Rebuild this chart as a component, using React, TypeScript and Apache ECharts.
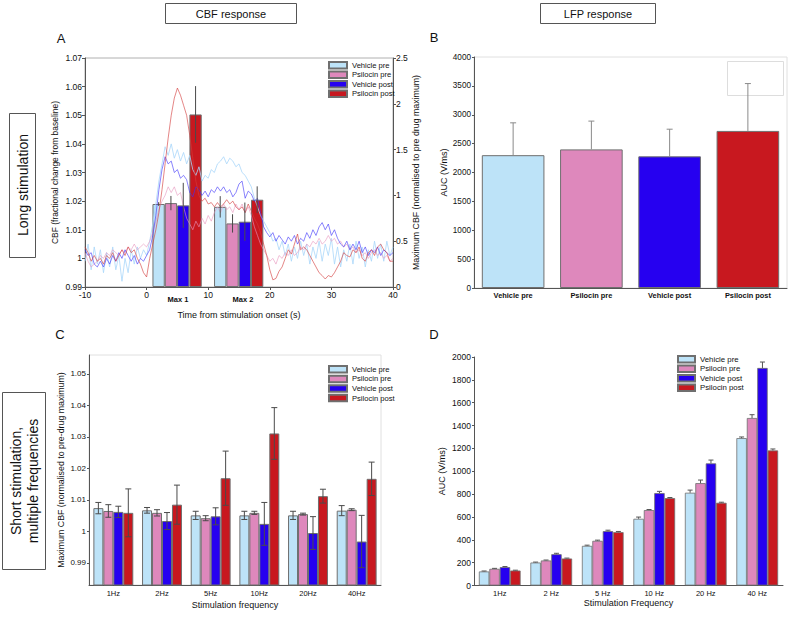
import React, { useEffect, useRef } from 'react';
import * as echarts from 'echarts';

// ---------- shared ----------
const conditions = ['Vehicle pre', 'Psilocin pre', 'Vehicle post', 'Psilocin post'];
const barColors = ['#bde3f8', '#de88bc', '#2600f0', '#c8181f'];
const traceColors = ['rgba(170,215,250,0.8)', 'rgba(232,150,190,0.6)', 'rgba(60,50,250,0.6)', 'rgba(212,60,60,0.62)'];

// ---------- Panel A: CBF traces (time from -10 s, step 0.5 s) ----------
const traceStart = -10;
const traceStep = 0.5;
const traceVehiclePre = [
  0.999, 1.005, 0.996, 1.004, 0.998, 1.003, 0.995, 1.002, 0.997, 1.004,
  0.996, 1.001, 0.992, 1.000, 0.995, 1.003, 0.998, 1.004, 1.000, 1.003,
  1.001, 1.006, 1.012, 1.019, 1.027, 1.033, 1.039, 1.036, 1.040, 1.035,
  1.038, 1.034, 1.037, 1.033, 1.036, 1.031, 1.029, 1.032, 1.027, 1.029,
  1.028, 1.031, 1.030, 1.033, 1.034, 1.0355, 1.033, 1.035, 1.034, 1.032,
  1.033, 1.030, 1.029, 1.027, 1.025, 1.021, 1.018, 1.015, 1.013, 1.011,
  1.009, 1.006, 1.007, 1.003, 1.006, 1.001, 1.005, 0.999, 1.004, 1.000,
  1.006, 1.001, 1.005, 0.998, 1.004, 1.000, 1.006, 0.999, 1.005, 1.001,
  1.007, 0.998, 1.004, 0.997, 1.003, 0.999, 1.005, 0.998, 1.006, 1.000,
  1.004, 0.997, 1.003, 0.999, 1.006, 1.000, 1.005, 0.999, 1.006, 1.001,
  1.004,
];
const tracePsilocinPre = [
  1.002, 0.999, 0.997, 0.998, 0.999, 1.001, 1.000, 1.002, 1.001, 1.003,
  1.002, 1.001, 1.003, 1.002, 1.004, 1.003, 1.005, 1.003, 1.004, 1.005,
  1.004, 1.006, 1.009, 1.013, 1.017, 1.020, 1.022, 1.025, 1.023, 1.025,
  1.022, 1.023, 1.018, 1.014, 1.012, 1.010, 1.013, 1.011, 1.014, 1.012,
  1.015, 1.013, 1.016, 1.018, 1.016, 1.019, 1.017, 1.018, 1.016, 1.019,
  1.017, 1.019, 1.016, 1.018, 1.015, 1.011, 1.008, 1.005, 1.003, 1.001,
  0.999, 1.000, 0.998, 1.001, 1.000, 1.002, 1.001, 1.003, 1.001, 1.002,
  1.004, 1.003, 1.005, 1.004, 1.006, 1.005, 1.007, 1.005, 1.006, 1.008,
  1.006, 1.007, 1.005, 1.006, 1.004, 1.005, 1.003, 1.004, 1.002, 1.003,
  1.001, 1.002, 1.000, 1.002, 1.003, 1.001, 1.002, 1.000, 1.001, 0.999,
  1.000,
];
const traceVehiclePost = [
  1.003, 1.001, 1.002, 0.998, 0.997, 0.999, 0.997, 1.000, 0.998, 1.001,
  0.999, 1.002, 1.000, 1.003, 1.001, 0.999, 1.001, 0.998, 1.000, 0.999,
  1.001, 1.003, 1.008, 1.015, 1.024, 1.031, 1.0355, 1.033, 1.034, 1.030,
  1.031, 1.028, 1.029, 1.0275, 1.023, 1.0215, 1.025, 1.024, 1.022, 1.0235,
  1.0215, 1.024, 1.023, 1.025, 1.0235, 1.025, 1.023, 1.024, 1.0215, 1.023,
  1.026, 1.027, 1.021, 1.0235, 1.0225, 1.020, 1.021, 1.016, 1.011, 1.009,
  1.0075, 1.009, 1.006, 1.008, 1.0065, 1.005, 1.0075, 1.006, 1.008, 1.005,
  1.007, 1.006, 1.009, 1.007, 1.010, 1.008, 1.011, 1.0125, 1.010, 1.012,
  1.008, 1.010, 1.007, 1.005, 1.004, 1.006, 1.003, 1.005, 1.003, 1.006,
  1.002, 1.004, 1.001, 1.003, 1.002, 1.004, 1.001, 1.003, 1.002, 1.001,
  1.002,
];
const tracePsilocinPost = [
  1.004, 1.002, 0.999, 1.001, 0.999, 1.000, 0.998, 1.001, 1.000, 1.002,
  0.999, 1.001, 1.003, 1.001, 1.004, 1.002, 1.003, 1.000, 0.998, 0.995,
  0.9935, 1.000, 1.005, 1.010, 1.016, 1.024, 1.033, 1.042, 1.050, 1.056,
  1.0595, 1.057, 1.0535, 1.050, 1.043, 1.035, 1.027, 1.022, 1.020, 1.021,
  1.019, 1.0195, 1.018, 1.0195, 1.018, 1.019, 1.0205, 1.019, 1.020, 1.018,
  1.017, 1.018, 1.016, 1.019, 1.0165, 1.014, 1.012, 1.009, 1.005, 1.001,
  0.996, 0.9925, 0.993, 0.9955, 0.997, 1.000, 1.003, 1.0015, 1.005, 1.0085,
  1.003, 1.004, 1.003, 1.001, 0.999, 0.997, 0.995, 0.994, 0.9928, 0.994,
  0.9935, 0.995, 0.997, 0.999, 1.002, 1.001, 1.0005, 1.003, 1.002, 1.004,
  1.000, 0.999, 1.002, 1.003, 1.001, 1.004, 1.005, 1.003, 1.002, 0.999,
  0.999,
];
const traces = [traceVehiclePre, tracePsilocinPre, traceVehiclePost, tracePsilocinPost];

// Panel A maxima (right axis: normalised to pre-drug maximum)
const maxLabels = ['Max 1', 'Max 2'];
const maxWindowStart = [0.95, 10.95]; // s; each condition bar spans 2 s
const maxVehiclePre = [0.906, 0.875];
const maxPsilocinPre = [0.916, 0.694];
const maxVehiclePost = [0.891, 0.713];
const maxPsilocinPost = [1.884, 0.953];
const maxErrVehiclePre = [0.02, 0.117];
const maxErrPsilocinPre = [0.078, 0.1];
const maxErrVehiclePost = [0.246, 0.209];
const maxErrPsilocinPost = [0.309, 0.146];
const maxValues = [maxVehiclePre, maxPsilocinPre, maxVehiclePost, maxPsilocinPost];
const maxErrors = [maxErrVehiclePre, maxErrPsilocinPre, maxErrVehiclePost, maxErrPsilocinPost];

// ---------- Panel B: LFP long stimulation ----------
const lfpLongAUC = [2300, 2400, 2280, 2720];
const lfpLongErr = [560, 490, 470, 820];

// ---------- Panel C: CBF short stimulation ----------
const freqLabelsC = ['1Hz', '2Hz', '5Hz', '10Hz', '20Hz', '40Hz'];
const cbfShortVehiclePre = [1.0074, 1.0067, 1.0051, 1.0051, 1.0051, 1.0066];
const cbfShortPsilocinPre = [1.0065, 1.0059, 1.0042, 1.0059, 1.0055, 1.0069];
const cbfShortVehiclePost = [1.0062, 1.0033, 1.0048, 1.0024, 0.9995, 0.9968];
const cbfShortPsilocinPost = [1.0059, 1.0085, 1.0169, 1.0311, 1.0112, 1.0167];
const cbfShortErrVehiclePre = [0.0018, 0.0009, 0.0013, 0.0013, 0.0013, 0.0016];
const cbfShortErrPsilocinPre = [0.002, 0.001, 0.0008, 0.0005, 0.0003, 0.0003];
const cbfShortErrVehiclePost = [0.0018, 0.0027, 0.0027, 0.0068, 0.0052, 0.0083];
const cbfShortErrPsilocinPost = [0.0076, 0.0062, 0.0086, 0.0082, 0.0022, 0.0053];
const cbfShortTicks = [0.99, 1, 1.01, 1.02, 1.03, 1.04, 1.05];
const cbfShort = [cbfShortVehiclePre, cbfShortPsilocinPre, cbfShortVehiclePost, cbfShortPsilocinPost];
const cbfShortErr = [cbfShortErrVehiclePre, cbfShortErrPsilocinPre, cbfShortErrVehiclePost, cbfShortErrPsilocinPost];

// ---------- Panel D: LFP short stimulation ----------
const freqLabelsD = ['1Hz', '2 Hz', '5 Hz', '10 Hz', '20 Hz', '40 Hz'];
const lfpShortVehiclePre = [123, 201, 347, 584, 812, 1290];
const lfpShortPsilocinPre = [146, 219, 391, 660, 896, 1466];
const lfpShortVehiclePost = [161, 274, 476, 809, 1069, 1904];
const lfpShortPsilocinPost = [131, 236, 467, 765, 724, 1182];
const lfpShortErrVehiclePre = [4, 4, 6, 15, 23, 10];
const lfpShortErrPsilocinPre = [4, 4, 6, 5, 27, 29];
const lfpShortErrVehiclePost = [5, 8, 8, 15, 29, 52];
const lfpShortErrPsilocinPost = [3, 4, 6, 5, 5, 13];
const lfpShort = [lfpShortVehiclePre, lfpShortPsilocinPre, lfpShortVehiclePost, lfpShortPsilocinPost];
const lfpShortErr = [lfpShortErrVehiclePre, lfpShortErrPsilocinPre, lfpShortErrVehiclePost, lfpShortErrPsilocinPost];

// ---------- option ----------
const FONT = '"Liberation Sans", Arial, Helvetica, sans-serif';
const fmt = (v: number) => String(Math.round(v * 1000) / 1000);
const axisLineStyle = { show: true, onZero: false, lineStyle: { color: '#555', width: 1 } };

function groupedErrorRender(gapFrac: number, capW: number, both: boolean, color: string) {
  return (params: any, api: any) => {
    const band = api.size([1, 0])[0];
    const barW = (band * (1 - gapFrac)) / 4;
    const k = api.value(1);
    const base = api.coord([api.value(0), api.value(2)]);
    const hi = api.coord([api.value(0), api.value(3)]);
    const lo = api.coord([api.value(0), api.value(4)]);
    const x = base[0] - 2 * barW + barW * (k + 0.5);
    const y1 = both ? lo[1] : base[1];
    const style = { stroke: color, lineWidth: 1 };
    return {
      type: 'group',
      children: [
        { type: 'line', shape: { x1: x, y1, x2: x, y2: hi[1] }, style },
        { type: 'line', shape: { x1: x - capW / 2, y1: hi[1], x2: x + capW / 2, y2: hi[1] }, style },
        ...(both ? [{ type: 'line', shape: { x1: x - capW / 2, y1: lo[1], x2: x + capW / 2, y2: lo[1] }, style }] : []),
      ],
    };
  };
}

function buildOption() {
  const series: any[] = [];

  // A: bars of maxima (right axis)
  conditions.forEach((name, k) => {
    series.push({
      type: 'bar', name, xAxisIndex: 0, yAxisIndex: 1,
      barWidth: 12.3, barGap: '-100%', z: 2,
      itemStyle: { color: barColors[k], borderColor: '#6f6f6f', borderWidth: 1 },
      data: maxValues[k].map((v, g) => [maxWindowStart[g] + 1 + 2 * k, v]),
    });
  });
  // A: traces (left axis)
  traces.forEach((tr, k) => {
    series.push({
      type: 'line', name: conditions[k] + ' trace', xAxisIndex: 0, yAxisIndex: 0,
      showSymbol: false, symbol: 'none', z: 3, silent: true,
      lineStyle: { color: traceColors[k], width: 1 },
      data: tr.map((v, i) => [traceStart + i * traceStep, v]),
    });
  });
  // A: error bars
  const errA: number[][] = [];
  conditions.forEach((_, k) => {
    maxValues[k].forEach((v, g) => {
      errA.push([maxWindowStart[g] + 1 + 2 * k, v - maxErrors[k][g], v + maxErrors[k][g]]);
    });
  });
  series.push({
    type: 'custom', name: 'errA', xAxisIndex: 0, yAxisIndex: 1, z: 5, silent: true,
    encode: { x: 0, y: [1, 2] },
    data: errA,
    renderItem: (params: any, api: any) => {
      const p1 = api.coord([api.value(0), api.value(1)]);
      const p2 = api.coord([api.value(0), api.value(2)]);
      return { type: 'line', shape: { x1: p1[0], y1: p1[1], x2: p2[0], y2: p2[1] }, style: { stroke: '#4a4a4a', lineWidth: 1 } };
    },
  });

  // B
  series.push({
    type: 'bar', name: 'LFP long', xAxisIndex: 1, yAxisIndex: 2, barCategoryGap: '20%', z: 2,
    data: lfpLongAUC.map((v, i) => ({ value: v, itemStyle: { color: barColors[i], borderColor: '#6f6f6f', borderWidth: 1 } })),
  });
  series.push({
    type: 'custom', name: 'errB', xAxisIndex: 1, yAxisIndex: 2, z: 5, silent: true,
    encode: { x: 0, y: [1, 2] },
    data: lfpLongAUC.map((v, i) => [i, v, v + lfpLongErr[i]]),
    renderItem: (params: any, api: any) => {
      const b = api.coord([api.value(0), api.value(1)]);
      const h = api.coord([api.value(0), api.value(2)]);
      const style = { stroke: '#8a8a8a', lineWidth: 1 };
      return {
        type: 'group', children: [
          { type: 'line', shape: { x1: b[0], y1: b[1], x2: b[0], y2: h[1] }, style },
          { type: 'line', shape: { x1: b[0] - 3, y1: h[1], x2: b[0] + 3, y2: h[1] }, style },
        ],
      };
    },
  });

  // C
  conditions.forEach((name, k) => {
    series.push({
      type: 'bar', name, xAxisIndex: 2, yAxisIndex: 3, barGap: '0%', barCategoryGap: '18%', z: 2,
      itemStyle: { color: barColors[k], borderColor: '#6f6f6f', borderWidth: 1 },
      data: cbfShort[k],
    });
  });
  const errC: number[][] = [];
  conditions.forEach((_, k) => cbfShort[k].forEach((v, i) => errC.push([i, k, v, v + cbfShortErr[k][i], v - cbfShortErr[k][i]])));
  series.push({
    type: 'custom', name: 'errC', xAxisIndex: 2, yAxisIndex: 3, z: 5, silent: true,
    encode: { x: 0, y: [2, 3, 4] }, data: errC,
    renderItem: groupedErrorRender(0.18, 6, true, '#4a4a4a'),
  });

  // D
  conditions.forEach((name, k) => {
    series.push({
      type: 'bar', name, xAxisIndex: 3, yAxisIndex: 4, barGap: '0%', barCategoryGap: '19%', z: 2,
      itemStyle: { color: barColors[k], borderColor: '#6f6f6f', borderWidth: 0.8 },
      data: lfpShort[k],
    });
  });
  const errD: number[][] = [];
  conditions.forEach((_, k) => lfpShort[k].forEach((v, i) => errD.push([i, k, v, v + lfpShortErr[k][i], v])));
  series.push({
    type: 'custom', name: 'errD', xAxisIndex: 3, yAxisIndex: 4, z: 5, silent: true,
    encode: { x: 0, y: [2, 3, 4] }, data: errD,
    renderItem: groupedErrorRender(0.19, 5, false, '#555'),
  });

  const tickLabel = { color: '#111', fontSize: 8.5, fontFamily: FONT };
  const nameText = { color: '#111', fontSize: 9, fontFamily: FONT };
  const legendBase = {
    orient: 'vertical', icon: 'rect', selectedMode: false, padding: 0, itemGap: 0,
    itemWidth: 18, itemHeight: 6.5, data: conditions,
    textStyle: { color: '#111', fontSize: 7.6, fontFamily: FONT, lineHeight: 9.5 },
  };

  const graphic: any[] = [
    // header boxes
    { type: 'rect', shape: { x: 165.5, y: 3.5, width: 131, height: 20 }, style: { fill: 'none', stroke: '#555', lineWidth: 1 } },
    { type: 'text', x: 231, y: 13.5, style: { text: 'CBF response', font: `11px ${FONT}`, fill: '#111', align: 'center', verticalAlign: 'middle' } },
    { type: 'rect', shape: { x: 540.5, y: 3.5, width: 115, height: 20 }, style: { fill: 'none', stroke: '#555', lineWidth: 1 } },
    { type: 'text', x: 598, y: 13.5, style: { text: 'LFP response', font: `11px ${FONT}`, fill: '#111', align: 'center', verticalAlign: 'middle' } },
    // side boxes
    { type: 'rect', shape: { x: 9.5, y: 113.5, width: 26, height: 144 }, style: { fill: 'none', stroke: '#555', lineWidth: 1 } },
    { type: 'text', x: 23, y: 185, rotation: Math.PI / 2, style: { text: 'Long stimulation', font: `14px ${FONT}`, fill: '#111', align: 'center', verticalAlign: 'middle' } },
    { type: 'rect', shape: { x: 2.5, y: 392.5, width: 43, height: 177 }, style: { fill: 'none', stroke: '#555', lineWidth: 1 } },
    { type: 'text', x: 24, y: 481, rotation: Math.PI / 2, style: { text: 'Short stimulation,\nmultiple frequencies', font: `14px ${FONT}`, lineHeight: 17, fill: '#111', align: 'center', verticalAlign: 'middle' } },
    // panel letters
    { type: 'text', x: 61, y: 38, style: { text: 'A', font: `13px ${FONT}`, fill: '#111', align: 'center', verticalAlign: 'middle' } },
    { type: 'text', x: 434, y: 37, style: { text: 'B', font: `13px ${FONT}`, fill: '#111', align: 'center', verticalAlign: 'middle' } },
    { type: 'text', x: 60, y: 334, style: { text: 'C', font: `13px ${FONT}`, fill: '#111', align: 'center', verticalAlign: 'middle' } },
    { type: 'text', x: 434, y: 334, style: { text: 'D', font: `13px ${FONT}`, fill: '#111', align: 'center', verticalAlign: 'middle' } },
    // Max labels under panel A
    { type: 'text', x: 178, y: 299, style: { text: maxLabels[0], font: `bold 7.5px ${FONT}`, fill: '#111', align: 'center', verticalAlign: 'middle' } },
    { type: 'text', x: 243, y: 299, style: { text: maxLabels[1], font: `bold 7.5px ${FONT}`, fill: '#111', align: 'center', verticalAlign: 'middle' } },
    // empty legend frame in B
    { type: 'rect', shape: { x: 727.5, y: 61.5, width: 56, height: 34 }, style: { fill: 'none', stroke: '#ddd', lineWidth: 1 } },
  ];

  const plain = (v: number) => String(v);

  return {
    animation: false,
    backgroundColor: '#ffffff',
    textStyle: { fontFamily: FONT },
    grid: [
      { left: 85, top: 58, width: 308, height: 229, show: true, borderColor: '#b0b0b0', borderWidth: 1 },
      { left: 474, top: 57, width: 313, height: 231, show: true, borderColor: '#e0e0e0', borderWidth: 1 },
      { left: 89, top: 355, width: 292, height: 230, show: true, borderColor: '#e0e0e0', borderWidth: 1 },
      { left: 474, top: 357, width: 309, height: 228.5 },
    ],
    xAxis: [
      {
        gridIndex: 0, type: 'value', min: -10, max: 40, interval: 10,
        axisLine: axisLineStyle, axisTick: { show: true, length: 3, lineStyle: { color: '#555' } },
        splitLine: { show: false }, axisLabel: { ...tickLabel, margin: 3, formatter: plain },
        name: 'Time from stimulation onset (s)', nameLocation: 'middle', nameGap: 23, nameTextStyle: nameText,
      },
      {
        gridIndex: 1, type: 'category', data: conditions,
        axisLine: axisLineStyle, axisTick: { show: false },
        axisLabel: { ...tickLabel, fontSize: 7.4, fontWeight: 'bold', margin: 4 },
      },
      {
        gridIndex: 2, type: 'category', data: freqLabelsC,
        axisLine: axisLineStyle, axisTick: { show: false },
        axisLabel: { ...tickLabel, fontSize: 7.5, margin: 4 },
        name: 'Stimulation frequency', nameLocation: 'middle', nameGap: 15, nameTextStyle: nameText,
      },
      {
        gridIndex: 3, type: 'category', data: freqLabelsD,
        axisLine: axisLineStyle, axisTick: { show: false },
        axisLabel: { ...tickLabel, fontSize: 7.5, margin: 4 },
        name: 'Stimulation Frequency', nameLocation: 'middle', nameGap: 11, nameTextStyle: nameText,
      },
    ],
    yAxis: [
      {
        gridIndex: 0, type: 'value', min: 0.99, max: 1.07, interval: 0.01,
        axisLine: axisLineStyle, axisTick: { show: true, length: 3, lineStyle: { color: '#555' } },
        splitLine: { show: false }, axisLabel: { ...tickLabel, margin: 3, formatter: fmt },
        name: 'CBF (fractional change from baseline)', nameLocation: 'middle', nameGap: 26, nameRotate: 90,
        nameTextStyle: { ...nameText, fontSize: 8.5 },
      },
      {
        gridIndex: 0, type: 'value', position: 'right', min: 0, max: 2.5, interval: 0.5,
        axisLine: axisLineStyle, axisTick: { show: true, length: 3, lineStyle: { color: '#555' } },
        splitLine: { show: false }, axisLabel: { ...tickLabel, margin: 3, formatter: fmt },
        name: 'Maximum CBF (normalised to pre drug maximum)', nameLocation: 'middle', nameGap: 17, nameRotate: 90,
        nameTextStyle: { ...nameText, fontSize: 8.8 },
      },
      {
        gridIndex: 1, type: 'value', min: 0, max: 4000, interval: 500,
        axisLine: axisLineStyle, axisTick: { show: true, length: 2, lineStyle: { color: '#555' } },
        splitLine: { show: false }, axisLabel: { ...tickLabel, fontSize: 8.2, margin: 3, formatter: plain },
        name: 'AUC (V/ms)', nameLocation: 'middle', nameGap: 25, nameRotate: 90, nameTextStyle: nameText,
      },
      {
        gridIndex: 2, type: 'value', min: 0.983, max: 1.056,
        axisLine: axisLineStyle,
        axisTick: { show: true, length: 2, customValues: cbfShortTicks, lineStyle: { color: '#555' } },
        splitLine: { show: false },
        axisLabel: { ...tickLabel, fontSize: 8, margin: 3, customValues: cbfShortTicks, formatter: fmt },
        name: 'Maximum CBF (normalised to pre-drug maximum)', nameLocation: 'middle', nameGap: 24, nameRotate: 90,
        nameTextStyle: { ...nameText, fontSize: 8.8 },
      },
      {
        gridIndex: 3, type: 'value', min: 0, max: 2000, interval: 200,
        axisLine: axisLineStyle, axisTick: { show: true, length: 2, lineStyle: { color: '#555' } },
        splitLine: { show: false }, axisLabel: { ...tickLabel, margin: 3, formatter: plain },
        name: 'AUC (V/ms)', nameLocation: 'middle', nameGap: 28, nameRotate: 90, nameTextStyle: nameText,
      },
    ],
    legend: [
      { ...legendBase, left: 328, top: 60.5 },
      { ...legendBase, left: 328, top: 364.5, textStyle: { ...legendBase.textStyle, lineHeight: 9.6 } },
      { ...legendBase, left: 677, top: 354.5, itemWidth: 17, textStyle: { ...legendBase.textStyle, fontSize: 7.8 } },
    ],
    series,
    graphic,
  };
}

export default function App() {
  const ref = useRef<HTMLDivElement>(null);
  useEffect(() => {
    if (!ref.current) return;
    const chart = echarts.init(ref.current, undefined, { renderer: 'svg' });
    chart.setOption(buildOption() as any);
    return () => chart.dispose();
  }, []);
  return (
    <div
      ref={ref}
      style={{ position: 'fixed', left: 0, top: 0, width: 789, height: 617, background: '#fff' }}
    />
  );
}
